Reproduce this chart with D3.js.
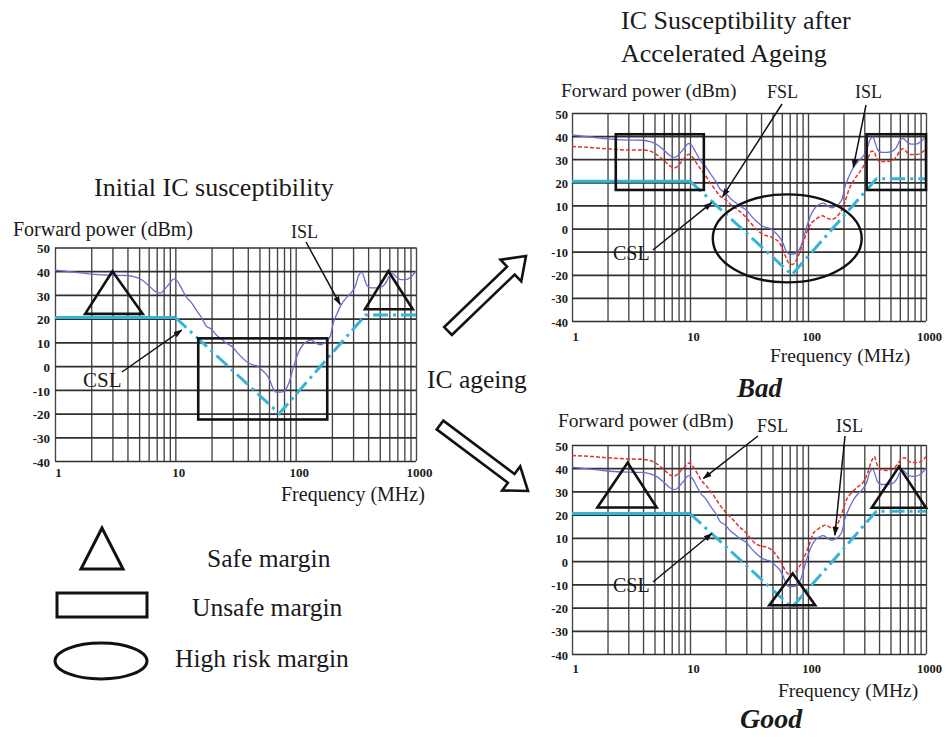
<!DOCTYPE html>
<html><head><meta charset="utf-8">
<script src="https://cdn.jsdelivr.net/npm/d3@7"></script>
<style>
body{margin:0;background:#fff;}
svg text{font-family:"Liberation Serif","Times New Roman",serif;fill:#1a1a1a;}
</style></head><body>
<svg id="fig" width="946" height="737" xmlns="http://www.w3.org/2000/svg"></svg>
<script>
// ---------- DATA ----------
const freqTickLabels = [1, 10, 100, 1000];
const powerTicks = [-40, -30, -20, -10, 0, 10, 20, 30, 40, 50];

// CSL: conducted susceptibility limit (MHz, dBm)
const cslData = [[1,20.5],[10,20.5],[73,-20],[380,21.5],[1000,21.5]];

// ISL: initial susceptibility level (MHz, dBm)
const islData = [[1,40.5],[1.5,39.5],[2,38.8],[3,38.3],[4,38.2],[4.6,37.6],[5.2,36.5],[6,34],[6.8,31.5],[7.5,30.8],[8.2,32.5],[9,35],[9.7,36.8],[10.4,35.8],[11.2,33],[12.4,29],[13.5,27],[15,23.5],[16.5,20.5],[18,17],[20,15.5],[22,13],[24,11.5],[26,10],[28,9],[30,8],[33,5.5],[36,3.5],[40,1.5],[44,0.5],[48,0],[52,-1.5],[57,-3.5],[61,-6],[65,-9.5],[69,-11],[75,-11],[82,-10],[88,-7],[94,-2],[100,2.5],[106,6],[115,9],[125,10.5],[135,11],[145,10],[158,9],[170,9.5],[185,11],[195,13],[205,18],[220,22],[240,26],[265,29],[290,31],[315,34],[335,38.5],[355,39.5],[372,37],[390,34],[420,33],[470,33],[520,33.5],[560,35],[600,38],[640,39],[690,37.5],[750,36.5],[820,36.5],[900,37.5],[1000,40]];

// FSL after ageing, "Bad" case (MHz, dBm)
const fslBadData = [[1,35.5],[1.5,35],[2,34.5],[3,34],[4,34],[4.6,33.5],[5.2,32],[6,29.5],[6.8,27],[7.5,26.3],[8.2,28],[9,30.5],[9.8,32.2],[10.5,31],[11.3,28.5],[12.4,25.5],[13.5,23],[15,19.5],[16.5,16.5],[18,14],[20,12.5],[22,10.5],[24,9],[26.5,7.3],[29,5.5],[32,3],[36,0],[40,-2],[44,-3],[48,-3.5],[52,-4.5],[57,-6],[61,-9],[65,-12.5],[69,-15],[74,-15.5],[79,-14],[85,-10.5],[91,-6],[97,-2],[103,1],[110,3],[120,4.5],[132,5.5],[145,4.5],[158,4],[170,4.5],[185,6.5],[198,9],[210,13],[225,17.5],[245,21],[270,24],[295,27],[320,30],[345,33.5],[362,33.5],[380,30.5],[410,29],[460,29],[520,29.5],[560,31],[600,33.5],[640,34.5],[690,33],[750,32],[820,32],[900,32.5],[1000,34.5]];

// FSL after ageing, "Good" case (MHz, dBm)
const fslGoodData = [[1,45.5],[1.5,45],[2,44.5],[3,44],[4,43.8],[4.6,43.3],[5.2,42],[6,39.5],[6.8,37],[7.3,36.5],[8.2,38.5],[9,40.5],[9.8,42.2],[10.5,41],[11.3,38.5],[12.4,35],[13.8,32.3],[15,30],[16.5,27],[18,24],[20.5,20.5],[23,18],[26,15],[30,12],[33,9.5],[36,7.5],[40,6.5],[45,6],[50,4.5],[55,2],[60,-1],[64,-4],[68,-5.5],[73,-6],[78,-5],[84,-2.5],[91,0.5],[97,4],[104,8],[111,12],[120,13.5],[132,15],[142,15.5],[155,14.5],[169,14.8],[180,16.5],[192,20],[210,26],[235,29.5],[265,32],[294,34],[320,38],[345,43],[365,45],[385,41.5],[420,39.2],[470,39],[520,39.5],[570,41.5],[620,44],[660,44.5],[711,43],[780,42.5],[860,42.5],[940,43.5],[1000,45]];

// margin annotations (data units: MHz, dBm)
const initTriangles = [[[3,40],[1.78,22],[5.36,22]], [[590,40],[377,24],[940,24]]];
const initBoxes = [[[15.5,11.7],[183,-22.5]]];
const badBoxes = [[[2.35,40.8],[13.1,16.7]], [[314,40.8],[1000,16.7]]];
const badEllipses = [[[15.6,14.8],[285,-23.3]]];
const goodTriangles = [[[2.96,42.4],[1.64,23.1],[5.22,23.1]], [[74.2,-5.3],[47,-19],[115,-19]], [[590,40.7],[347,23],[1000,23]]];

// pointer tips (data units)
const initPointers = [["ISL",[234,26]],["CSL",[11.3,15.2]]];
const badPointers = [["FSL",[18.9,13.8]],["ISL",[242,26.5]],["CSL",[15.3,11.2]]];
const goodPointers = [["FSL",[13,35.6]],["ISL",[169,11.2]],["CSL",[15.3,11.9]]];

// ---------- LAYOUT ----------
const svg = d3.select("#fig");
const defs = svg.append("defs");
defs.append("marker").attr("id","ah").attr("viewBox","0 0 10 10")
  .attr("refX",9).attr("refY",5).attr("markerWidth",9).attr("markerHeight",9)
  .attr("markerUnits","userSpaceOnUse").attr("orient","auto")
  .append("path").attr("d","M0,1.5 L10,5 L0,8.5 z").attr("fill","#111");

const gridFreqs = [];
[1,10,100].forEach(d => { for (let k = 1; k <= 9; k++) gridFreqs.push(d*k); });
gridFreqs.push(1000);

const COL_ISL = "#6b6bd2", COL_FSL = "#e3322f", COL_CSL = "#36b4d6";

function drawChart(cfg) {
  const x = d3.scaleLog().domain([1,1000]).range([cfg.x0, cfg.x1]);
  const y = d3.scaleLinear().domain([-40,50]).range([cfg.y1, cfg.y0]);
  const g = svg.append("g");
  const W = cfg.x1 - cfg.x0, H = cfg.y1 - cfg.y0;

  // vertical grid
  g.append("g").attr("transform", `translate(0,${cfg.y1})`)
    .call(d3.axisBottom(x).tickValues(gridFreqs).tickSize(-H).tickFormat(""))
    .call(s => s.select(".domain").remove())
    .call(s => s.selectAll("line").attr("stroke","#444").attr("stroke-width",1.35));
  // horizontal grid
  g.append("g").attr("transform", `translate(${cfg.x0},0)`)
    .call(d3.axisLeft(y).tickValues(powerTicks).tickSize(-W).tickFormat(""))
    .call(s => s.select(".domain").remove())
    .call(s => s.selectAll("line").attr("stroke","#303030").attr("stroke-width",1.7));

  // y tick labels
  g.append("g").attr("transform", `translate(${cfg.x0},0)`)
    .call(d3.axisLeft(y).tickValues(powerTicks).tickSize(0).tickPadding(cfg.yPad).tickFormat(d => String(d)))
    .attr("font-family", null).attr("font-size", null)
    .call(s => s.select(".domain").remove())
    .call(s => s.selectAll("text").attr("font-weight","bold").attr("font-size",cfg.tickFs).attr("dy","0.4em").attr("fill","#222"));
  // x tick labels
  g.append("g").attr("transform", `translate(0,${cfg.y1})`)
    .call(d3.axisBottom(x).tickValues(freqTickLabels).tickSize(0).tickPadding(cfg.xPad).tickFormat(d => String(d)))
    .attr("font-family", null).attr("font-size", null)
    .call(s => s.select(".domain").remove())
    .call(s => s.selectAll("text").attr("font-weight","bold").attr("font-size",cfg.tickFs).attr("dx",3).attr("fill","#222"));

  const line = d3.line().x(d => x(d[0])).y(d => y(d[1])).curve(d3.curveMonotoneX);
  const lin = d3.line().x(d => x(d[0])).y(d => y(d[1]));
  // CSL: solid flat part, dash-dot sloped part
  g.append("path").attr("d", lin(cslData.filter(d => d[0] <= 10)))
    .attr("fill","none").attr("stroke",COL_CSL).attr("stroke-width",3);
  g.append("path").attr("d", lin(cslData.filter(d => d[0] >= 10)))
    .attr("fill","none").attr("stroke",COL_CSL).attr("stroke-width",3).attr("stroke-dasharray","15,5,3,5");
  // ISL
  g.append("path").attr("d", line(islData)).attr("fill","none")
    .attr("stroke",COL_ISL).attr("stroke-width",1.3);
  // FSL
  if (cfg.fsl) g.append("path").attr("d", line(cfg.fsl)).attr("fill","none")
    .attr("stroke",COL_FSL).attr("stroke-width",1.5).attr("stroke-dasharray","4,2");

  // margin shapes
  (cfg.triangles || []).forEach(t => {
    g.append("path").attr("d", "M" + t.map(p => [x(p[0]), y(p[1])].join(",")).join("L") + "Z")
      .attr("fill","none").attr("stroke","#111").attr("stroke-width",2.6).attr("stroke-linejoin","miter");
  });
  (cfg.boxes || []).forEach(b => {
    g.append("rect").attr("x", x(b[0][0])).attr("y", y(b[0][1]))
      .attr("width", x(b[1][0]) - x(b[0][0])).attr("height", y(b[1][1]) - y(b[0][1]))
      .attr("fill","none").attr("stroke","#111").attr("stroke-width",2.6);
  });
  (cfg.ellipses || []).forEach(e => {
    const xa = x(e[0][0]), xb = x(e[1][0]), ya = y(e[0][1]), yb = y(e[1][1]);
    g.append("ellipse").attr("cx",(xa+xb)/2).attr("cy",(ya+yb)/2)
      .attr("rx",(xb-xa)/2).attr("ry",(yb-ya)/2)
      .attr("fill","none").attr("stroke","#111").attr("stroke-width",2.4);
  });

  // pointer labels
  cfg.pointers.forEach((p, i) => {
    const L = cfg.labels[i];
    g.append("text").attr("x", L.x).attr("y", L.y).attr("font-size", L.fs).text(p[0]);
    g.append("line").attr("x1", L.ax).attr("y1", L.ay)
      .attr("x2", x(p[1][0])).attr("y2", y(p[1][1]))
      .attr("stroke","#111").attr("stroke-width",1.5).attr("marker-end","url(#ah)");
  });

  // axis titles
  g.append("text").attr("x", cfg.ylab[0]).attr("y", cfg.ylab[1]).attr("font-size", cfg.ylab[2]).text("Forward power (dBm)");
  g.append("text").attr("x", cfg.xlab[0]).attr("y", cfg.xlab[1]).attr("font-size", cfg.xlab[2]).text("Frequency (MHz)");
}

drawChart({x0:55, x1:416, y0:247.5, y1:461, yPad:5, xPad:7, tickFs:13,
  triangles:initTriangles, boxes:initBoxes, pointers:initPointers,
  labels:[{x:291,y:238,fs:18,ax:306,ay:242},{x:83,y:387,fs:21,ax:122,ay:372}],
  ylab:[13,236,20], xlab:[281,501,20]});

drawChart({x0:572, x1:926, y0:113, y1:321, yPad:4, xPad:11, tickFs:12.5, fsl:fslBadData,
  boxes:badBoxes, ellipses:badEllipses, pointers:badPointers,
  labels:[{x:767,y:98,fs:18,ax:782,ay:104},{x:855,y:98,fs:18,ax:866,ay:105},{x:613,y:260,fs:20,ax:653,ay:250}],
  ylab:[561,97,19.5], xlab:[770,362,19.5]});

drawChart({x0:572, x1:926, y0:445, y1:654, yPad:4, xPad:10, tickFs:12.5, fsl:fslGoodData,
  triangles:goodTriangles, pointers:goodPointers,
  labels:[{x:757,y:432,fs:18,ax:758,ay:436},{x:836,y:432,fs:18,ax:845,ay:436},{x:613,y:592,fs:20,ax:653,ay:582}],
  ylab:[558,427,19.5], xlab:[778,697,19.5]});

// titles
svg.append("text").attr("x",94).attr("y",196).attr("font-size",26).text("Initial IC susceptibility");
svg.append("text").attr("x",621).attr("y",29).attr("font-size",26).text("IC Susceptibility after");
svg.append("text").attr("x",621).attr("y",62).attr("font-size",26).text("Accelerated Ageing");
svg.append("text").attr("x",737).attr("y",397).attr("font-size",27).attr("font-weight","bold").attr("font-style","italic").text("Bad");
svg.append("text").attr("x",740).attr("y",728).attr("font-size",28).attr("font-weight","bold").attr("font-style","italic").text("Good");
svg.append("text").attr("x",427).attr("y",388).attr("font-size",25.5).text("IC ageing");

// block arrows
function blockArrow(x1,y1,x2,y2){
  const dx = x2-x1, dy = y2-y1, len = Math.hypot(dx,dy);
  const ux = dx/len, uy = dy/len, nx = -uy, ny = ux;
  const sw = 5.5, hw = 15, hl = 21;
  const bx = x2 - ux*hl, by = y2 - uy*hl;
  const pts = [[x1+nx*sw,y1+ny*sw],[bx+nx*sw,by+ny*sw],[bx+nx*hw,by+ny*hw],[x2,y2],
               [bx-nx*hw,by-ny*hw],[bx-nx*sw,by-ny*sw],[x1-nx*sw,y1-ny*sw]];
  svg.append("path").attr("d","M"+pts.map(p=>p.join(",")).join("L")+"Z")
    .attr("fill","#fff").attr("stroke","#111").attr("stroke-width",2.6).attr("stroke-linejoin","miter");
}
blockArrow(448,331,526,256);
blockArrow(440,425,528,491);

// legend
svg.append("path").attr("d","M102,528L81,569L123,569Z").attr("fill","none").attr("stroke","#111").attr("stroke-width",3);
svg.append("text").attr("x",207).attr("y",567).attr("font-size",25.5).text("Safe margin");
svg.append("rect").attr("x",57).attr("y",593).attr("width",90).attr("height",24).attr("fill","none").attr("stroke","#111").attr("stroke-width",3);
svg.append("text").attr("x",192).attr("y",616).attr("font-size",25.5).text("Unsafe margin");
svg.append("ellipse").attr("cx",101).attr("cy",661).attr("rx",46).attr("ry",18).attr("fill","none").attr("stroke","#111").attr("stroke-width",3);
svg.append("text").attr("x",175).attr("y",667).attr("font-size",25.5).text("High risk margin");
</script>
</body></html>
